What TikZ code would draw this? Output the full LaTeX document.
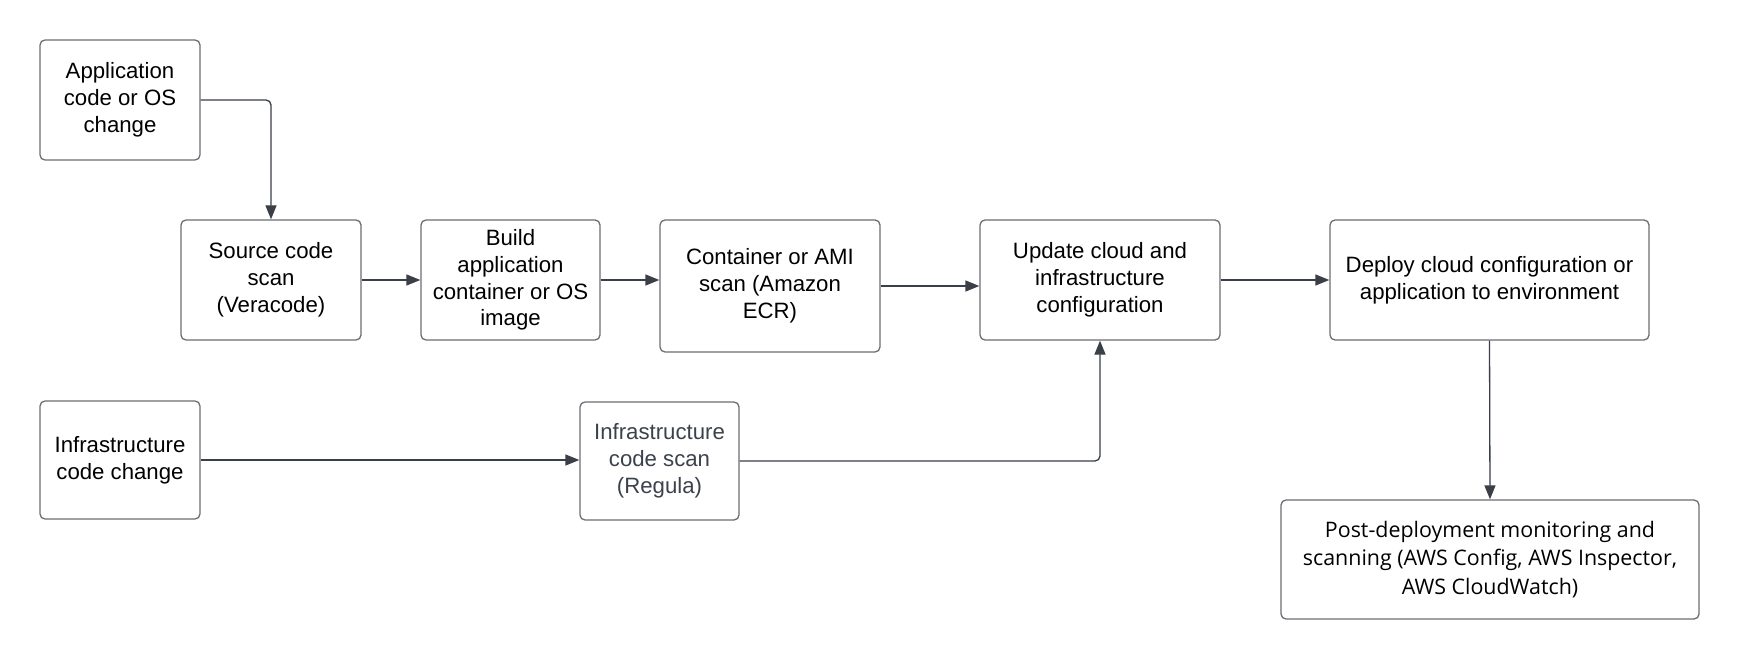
\documentclass[tikz,border=0pt]{standalone}
\usepackage{fontspec}
\setmainfont{Liberation Sans}
\newfontfamily\postfont{Open Sans}
\usetikzlibrary{arrows.meta}
\definecolor{boxline}{HTML}{6B6E74}
\definecolor{arrowc}{HTML}{3A3F48}
\definecolor{greytext}{HTML}{3C424C}
\tikzset{
  box/.style={draw=boxline, line width=1.3pt, rounded corners=5pt, fill=white,
    align=center, inner sep=0pt, font=\fontsize{22.2}{26.8}\selectfont},
  conn/.style={draw=arrowc, line width=1.3pt, rounded corners=5pt,
    -{Triangle[length=14pt,width=11pt]}},
}
\begin{document}
\begin{tikzpicture}[x=1pt,y=-1pt]
\useasboundingbox[fill=white] (0,0) rectangle (1740,660);
\node[box, minimum width=160pt, minimum height=120pt] (app) at (120,100) {Application\\code or OS\\change};
\node[box, minimum width=180pt, minimum height=120pt] (src) at (271,280) {Source code\\scan\\(Veracode)};
\node[box, minimum width=179pt, minimum height=120pt] (bld) at (510.5,280) {Build\\application\\container or OS\\image};
\node[box, minimum width=220pt, minimum height=132pt] (cnt) at (770,286) {Container or AMI\\scan (Amazon\\ECR)};
\node[box, minimum width=240pt, minimum height=120pt] (upd) at (1100,280) {Update cloud and\\infrastructure\\configuration};
\node[box, minimum width=319pt, minimum height=120pt] (dep) at (1489.5,280) {Deploy cloud configuration or\\application to environment};
\node[box, minimum width=160pt, minimum height=118pt] (ich) at (120,460) {Infrastructure\\code change};
\node[box, minimum width=159pt, minimum height=118pt, text=greytext] (isc) at (659.5,461) {Infrastructure\\code scan\\(Regula)};
\node[box, minimum width=418pt, minimum height=119pt, font=\postfont\fontsize{21.4}{28.8}\selectfont] (pst) at (1490,559.5) {Post-deployment monitoring and\\scanning (AWS Config, AWS Inspector,\\AWS CloudWatch)};
\draw[conn] (app.east) -| (src.north);
\draw[conn] (src.east) -- (bld.west);
\draw[conn] (bld.east) -- (bld.east -| cnt.west);
\draw[conn] (cnt.east) -- (cnt.east -| upd.west);
\draw[conn] (upd.east) -- (dep.west);
\draw[conn] (dep.south) -- (pst.north);
\draw[conn] (ich.east) -- (ich.east -| isc.west);
\draw[conn] (isc.east) -| (upd.south);
\end{tikzpicture}
\end{document}
